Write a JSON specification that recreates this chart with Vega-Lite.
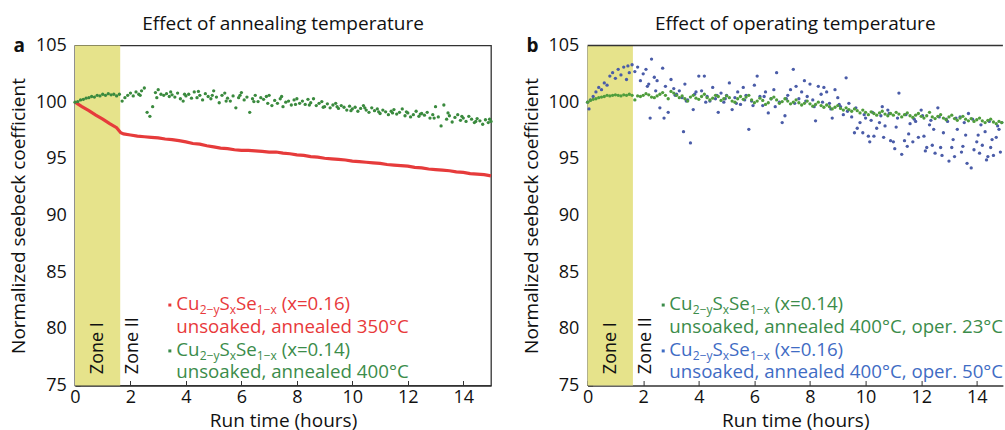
{
"$schema":"https://vega.github.io/schema/vega-lite/v6.json",
"padding":{"left":8,"top":13.5,"right":0,"bottom":0},
"config":{"font":"Open Sans","view":{"stroke":"#333","strokeWidth":1.3},
"axis":{"grid":false,"domainColor":"#333","domainWidth":1.3,"tickColor":"#333","tickSize":-5,"labelFontSize":18,"titleFontSize":19,"labelColor":"#111","titleColor":"#111","titleFontWeight":"normal","labelFlush":false,"labelOverlap":false},
"title":{"fontSize":19,"fontWeight":"normal","color":"#111"}},
"datasets":{
"zone":[{"t":0,"t2":1.63,"v":75,"v2":105}],
"zoneLbl":[{"t":0.83,"v":76.0,"lbl":"Zone I"},{"t":2.1,"v":76.0,"lbl":"Zone II"}],
"redA":[{"t":0,"v":100},{"t":0.25,"v":99.6},{"t":0.5,"v":99.25},{"t":0.75,"v":98.85},{"t":1,"v":98.5},{"t":1.25,"v":98.1},{"t":1.5,"v":97.75},{"t":1.65,"v":97.3},{"t":1.75,"v":97.2},{"t":2,"v":97.1},{"t":2.25,"v":97},{"t":2.5,"v":96.95},{"t":2.75,"v":96.9},{"t":3,"v":96.85},{"t":3.25,"v":96.75},{"t":3.5,"v":96.7},{"t":3.75,"v":96.6},{"t":4,"v":96.5},{"t":4.25,"v":96.35},{"t":4.5,"v":96.3},{"t":4.75,"v":96.15},{"t":5,"v":96.05},{"t":5.25,"v":95.95},{"t":5.5,"v":95.9},{"t":5.75,"v":95.8},{"t":6,"v":95.75},{"t":6.25,"v":95.75},{"t":6.5,"v":95.7},{"t":6.75,"v":95.65},{"t":7,"v":95.6},{"t":7.25,"v":95.6},{"t":7.5,"v":95.5},{"t":7.75,"v":95.45},{"t":8,"v":95.35},{"t":8.25,"v":95.3},{"t":8.5,"v":95.2},{"t":8.75,"v":95.15},{"t":9,"v":95.05},{"t":9.25,"v":95},{"t":9.5,"v":94.95},{"t":9.75,"v":94.9},{"t":10,"v":94.8},{"t":10.25,"v":94.75},{"t":10.5,"v":94.7},{"t":10.75,"v":94.65},{"t":11,"v":94.6},{"t":11.25,"v":94.5},{"t":11.5,"v":94.45},{"t":11.75,"v":94.4},{"t":12,"v":94.35},{"t":12.25,"v":94.25},{"t":12.5,"v":94.2},{"t":12.75,"v":94.1},{"t":13,"v":94.05},{"t":13.25,"v":94},{"t":13.5,"v":93.95},{"t":13.75,"v":93.85},{"t":14,"v":93.8},{"t":14.25,"v":93.7},{"t":14.5,"v":93.65},{"t":14.75,"v":93.6},{"t":15,"v":93.5}],
"greenA":[{"t":0,"v":100},{"t":0.1,"v":100.05},{"t":0.2,"v":100.2},{"t":0.3,"v":100.25},{"t":0.4,"v":100.35},{"t":0.5,"v":100.4},{"t":0.6,"v":100.5},{"t":0.7,"v":100.45},{"t":0.8,"v":100.6},{"t":0.9,"v":100.55},{"t":1,"v":100.7},{"t":1.1,"v":100.6},{"t":1.2,"v":100.75},{"t":1.3,"v":100.65},{"t":1.4,"v":100.7},{"t":1.5,"v":100.55},{"t":1.6,"v":100.7},{"t":1.7,"v":100.1},{"t":1.8,"v":100.4},{"t":1.9,"v":100.6},{"t":2,"v":100.8},{"t":2.1,"v":100.55},{"t":2.2,"v":100.9},{"t":2.3,"v":100.7},{"t":2.4,"v":101},{"t":2.5,"v":101.25},{"t":2.6,"v":99.1},{"t":2.7,"v":98.75},{"t":2.8,"v":99.6},{"t":2.9,"v":100.85},{"t":3,"v":101.1},{"t":3.1,"v":100.7},{"t":3.2,"v":100.6},{"t":3.3,"v":100.75},{"t":3.4,"v":100.5},{"t":3.5,"v":100.65},{"t":3.6,"v":100.45},{"t":3.7,"v":100.8},{"t":3.8,"v":100.3},{"t":3.9,"v":100.1},{"t":4,"v":100.55},{"t":4.1,"v":100.7},{"t":4.2,"v":100.35},{"t":4.3,"v":100.9},{"t":4.4,"v":100.4},{"t":4.5,"v":100.6},{"t":4.6,"v":100.2},{"t":4.7,"v":100.75},{"t":4.8,"v":100.5},{"t":4.9,"v":100.3},{"t":5,"v":101},{"t":5.1,"v":100.45},{"t":5.2,"v":99.95},{"t":5.3,"v":100.6},{"t":5.4,"v":100.8},{"t":5.5,"v":100.35},{"t":5.6,"v":100.1},{"t":5.7,"v":100.55},{"t":5.8,"v":99.5},{"t":5.9,"v":100.4},{"t":6,"v":100.85},{"t":6.1,"v":100.2},{"t":6.2,"v":100.45},{"t":6.3,"v":99.1},{"t":6.4,"v":100.3},{"t":6.5,"v":100.6},{"t":6.6,"v":100.05},{"t":6.7,"v":100.4},{"t":6.8,"v":100.25},{"t":6.9,"v":100.5},{"t":7,"v":100.6},{"t":7.1,"v":99.7},{"t":7.2,"v":100.15},{"t":7.3,"v":99.9},{"t":7.4,"v":100.3},{"t":7.5,"v":99.6},{"t":7.6,"v":100},{"t":7.7,"v":100.1},{"t":7.8,"v":99.75},{"t":7.9,"v":100.2},{"t":8,"v":100.3},{"t":8.1,"v":99.9},{"t":8.2,"v":100.1},{"t":8.3,"v":99.8},{"t":8.4,"v":100.25},{"t":8.5,"v":99.95},{"t":8.6,"v":100.3},{"t":8.7,"v":99.7},{"t":8.8,"v":99.9},{"t":8.9,"v":100.05},{"t":9,"v":99.6},{"t":9.1,"v":99.85},{"t":9.2,"v":99.5},{"t":9.3,"v":99.75},{"t":9.4,"v":99.9},{"t":9.5,"v":99.45},{"t":9.6,"v":99.7},{"t":9.7,"v":99.55},{"t":9.8,"v":99.3},{"t":9.9,"v":99.65},{"t":10,"v":99.4},{"t":10.1,"v":99.55},{"t":10.2,"v":99.2},{"t":10.3,"v":99.45},{"t":10.4,"v":99.7},{"t":10.5,"v":99.3},{"t":10.6,"v":99.1},{"t":10.7,"v":99.5},{"t":10.8,"v":99.25},{"t":10.9,"v":99.4},{"t":11,"v":99},{"t":11.1,"v":99.3},{"t":11.2,"v":99.15},{"t":11.3,"v":98.9},{"t":11.4,"v":99.2},{"t":11.5,"v":99.35},{"t":11.6,"v":98.95},{"t":11.7,"v":99.1},{"t":11.8,"v":99.4},{"t":11.9,"v":98.8},{"t":12,"v":99.05},{"t":12.1,"v":98.7},{"t":12.2,"v":98.9},{"t":12.3,"v":99.2},{"t":12.4,"v":98.75},{"t":12.5,"v":99},{"t":12.6,"v":98.85},{"t":12.7,"v":99.1},{"t":12.8,"v":98.6},{"t":12.9,"v":98.9},{"t":13,"v":99.6},{"t":13.1,"v":98.7},{"t":13.2,"v":97.9},{"t":13.3,"v":99.75},{"t":13.4,"v":98.5},{"t":13.5,"v":98.8},{"t":13.6,"v":98.25},{"t":13.7,"v":98.65},{"t":13.8,"v":98.9},{"t":13.9,"v":98.4},{"t":14,"v":98.6},{"t":14.1,"v":98.3},{"t":14.2,"v":98.75},{"t":14.3,"v":98.5},{"t":14.4,"v":98.2},{"t":14.5,"v":98.55},{"t":14.6,"v":98.35},{"t":14.7,"v":98.05},{"t":14.8,"v":98.45},{"t":14.9,"v":98.2},{"t":15,"v":98.3},{"t":2.35,"v":100.6},{"t":2.95,"v":100.4},{"t":3.45,"v":100.9},{"t":3.95,"v":100.7},{"t":4.45,"v":100.95},{"t":4.95,"v":100.6},{"t":5.45,"v":100.1},{"t":5.95,"v":100.6},{"t":6.45,"v":100.05},{"t":6.95,"v":99.9},{"t":7.45,"v":100.5},{"t":7.95,"v":99.8},{"t":8.45,"v":99.75},{"t":8.95,"v":99.55},{"t":9.45,"v":99.6},{"t":9.95,"v":99.25},{"t":10.45,"v":99.5},{"t":10.95,"v":99.15},{"t":11.45,"v":99.05},{"t":11.95,"v":99.15},{"t":12.45,"v":98.95},{"t":12.95,"v":98.6},{"t":13.45,"v":99.05},{"t":13.95,"v":98.75},{"t":14.45,"v":98.3},{"t":14.95,"v":98.5}],
"greenB":[{"t":0,"v":100},{"t":0.1,"v":100.15},{"t":0.2,"v":100.25},{"t":0.3,"v":100.3},{"t":0.4,"v":100.4},{"t":0.5,"v":100.45},{"t":0.6,"v":100.5},{"t":0.7,"v":100.6},{"t":0.8,"v":100.55},{"t":0.9,"v":100.6},{"t":1,"v":100.65},{"t":1.1,"v":100.6},{"t":1.2,"v":100.55},{"t":1.3,"v":100.65},{"t":1.4,"v":100.6},{"t":1.5,"v":100.7},{"t":1.6,"v":100.6},{"t":1.7,"v":100.2},{"t":1.8,"v":100.55},{"t":1.9,"v":100.5},{"t":2,"v":100.6},{"t":2.1,"v":100.75},{"t":2.2,"v":100.65},{"t":2.3,"v":100.45},{"t":2.4,"v":100.4},{"t":2.5,"v":100.55},{"t":2.6,"v":100.7},{"t":2.7,"v":100.85},{"t":2.8,"v":100.6},{"t":2.9,"v":100.3},{"t":3,"v":100.95},{"t":3.1,"v":100.8},{"t":3.2,"v":100.6},{"t":3.3,"v":100.4},{"t":3.4,"v":100.55},{"t":3.5,"v":100.3},{"t":3.6,"v":100.1},{"t":3.7,"v":100.45},{"t":3.8,"v":100.6},{"t":3.9,"v":100.35},{"t":4,"v":100.25},{"t":4.1,"v":100.5},{"t":4.2,"v":100.7},{"t":4.3,"v":100.4},{"t":4.4,"v":100.2},{"t":4.5,"v":100.35},{"t":4.6,"v":100.6},{"t":4.7,"v":100.5},{"t":4.8,"v":100.15},{"t":4.9,"v":100.3},{"t":5,"v":100.55},{"t":5.1,"v":100.4},{"t":5.2,"v":100.1},{"t":5.3,"v":100},{"t":5.4,"v":100.3},{"t":5.5,"v":100.5},{"t":5.6,"v":100.25},{"t":5.7,"v":100.45},{"t":5.8,"v":100.6},{"t":5.9,"v":100.2},{"t":6,"v":99.95},{"t":6.1,"v":100.1},{"t":6.2,"v":100.35},{"t":6.3,"v":100.15},{"t":6.4,"v":99.8},{"t":6.5,"v":99.95},{"t":6.6,"v":100.3},{"t":6.7,"v":100.45},{"t":6.8,"v":100.2},{"t":6.9,"v":99.9},{"t":7,"v":100.05},{"t":7.1,"v":100.3},{"t":7.2,"v":100.1},{"t":7.3,"v":99.85},{"t":7.4,"v":100},{"t":7.5,"v":100.2},{"t":7.6,"v":99.95},{"t":7.7,"v":99.75},{"t":7.8,"v":99.9},{"t":7.9,"v":100.1},{"t":8,"v":99.85},{"t":8.1,"v":99.65},{"t":8.2,"v":99.8},{"t":8.3,"v":100},{"t":8.4,"v":99.7},{"t":8.5,"v":99.55},{"t":8.6,"v":99.75},{"t":8.7,"v":99.6},{"t":8.8,"v":99.4},{"t":8.9,"v":99.55},{"t":9,"v":99.7},{"t":9.1,"v":99.45},{"t":9.2,"v":99.3},{"t":9.3,"v":99.5},{"t":9.4,"v":99.35},{"t":9.5,"v":99.2},{"t":9.6,"v":99.4},{"t":9.7,"v":99.25},{"t":9.8,"v":99.05},{"t":9.9,"v":99.3},{"t":10,"v":99.1},{"t":10.1,"v":98.9},{"t":10.2,"v":99.15},{"t":10.3,"v":99},{"t":10.4,"v":98.85},{"t":10.5,"v":99.05},{"t":10.6,"v":99.2},{"t":10.7,"v":98.95},{"t":10.8,"v":98.8},{"t":10.9,"v":99},{"t":11,"v":98.85},{"t":11.1,"v":99.1},{"t":11.2,"v":98.95},{"t":11.3,"v":98.7},{"t":11.4,"v":98.9},{"t":11.5,"v":99.05},{"t":11.6,"v":98.8},{"t":11.7,"v":98.65},{"t":11.8,"v":98.85},{"t":11.9,"v":99},{"t":12,"v":98.75},{"t":12.1,"v":98.6},{"t":12.2,"v":98.8},{"t":12.3,"v":99.1},{"t":12.4,"v":98.7},{"t":12.5,"v":98.55},{"t":12.6,"v":98.75},{"t":12.7,"v":98.9},{"t":12.8,"v":98.6},{"t":12.9,"v":98.45},{"t":13,"v":98.7},{"t":13.1,"v":98.85},{"t":13.2,"v":98.55},{"t":13.3,"v":98.4},{"t":13.4,"v":98.6},{"t":13.5,"v":98.75},{"t":13.6,"v":98.5},{"t":13.7,"v":98.35},{"t":13.8,"v":98.55},{"t":13.9,"v":98.3},{"t":14,"v":98.45},{"t":14.1,"v":98.6},{"t":14.2,"v":98.35},{"t":14.3,"v":98.2},{"t":14.4,"v":98.4},{"t":14.5,"v":98.5},{"t":14.6,"v":98.25},{"t":14.7,"v":98.1},{"t":14.8,"v":98.3},{"t":14.9,"v":98.2}],
"blueB":[{"t":0,"v":100},{"t":0.05,"v":99.4},{"t":0.1,"v":100.2},{"t":0.2,"v":100.5},{"t":0.3,"v":100.9},{"t":0.4,"v":101.3},{"t":0.5,"v":101.1},{"t":0.6,"v":101.7},{"t":0.7,"v":101.5},{"t":0.8,"v":102.3},{"t":0.9,"v":102.6},{"t":1,"v":102.1},{"t":1.1,"v":102.9},{"t":1.2,"v":102.4},{"t":1.3,"v":103.1},{"t":1.4,"v":102},{"t":1.45,"v":103.2},{"t":1.5,"v":102.6},{"t":1.6,"v":103.3},{"t":1.7,"v":102.7},{"t":1.8,"v":103.1},{"t":1.9,"v":101.9},{"t":2,"v":102.5},{"t":2.1,"v":102.9},{"t":2.15,"v":101.4},{"t":2.2,"v":101.6},{"t":2.25,"v":98.6},{"t":2.3,"v":103.8},{"t":2.4,"v":102.2},{"t":2.45,"v":101},{"t":2.5,"v":101.9},{"t":2.6,"v":99.5},{"t":2.7,"v":103},{"t":2.75,"v":98.6},{"t":2.8,"v":101.4},{"t":2.9,"v":99.1},{"t":3,"v":102},{"t":3.1,"v":101.2},{"t":3.15,"v":100.6},{"t":3.2,"v":100.7},{"t":3.3,"v":101},{"t":3.4,"v":100.4},{"t":3.45,"v":97.4},{"t":3.5,"v":101.6},{"t":3.55,"v":100.1},{"t":3.6,"v":100.2},{"t":3.7,"v":96.4},{"t":3.8,"v":99.35},{"t":3.85,"v":100.7},{"t":3.9,"v":100.9},{"t":4,"v":102.3},{"t":4.1,"v":101},{"t":4.2,"v":102.3},{"t":4.25,"v":100},{"t":4.3,"v":100.5},{"t":4.4,"v":100.1},{"t":4.5,"v":101.3},{"t":4.6,"v":100.3},{"t":4.65,"v":100.6},{"t":4.7,"v":99.1},{"t":4.8,"v":100.8},{"t":4.9,"v":100},{"t":4.95,"v":100.3},{"t":5,"v":100.6},{"t":5.1,"v":101.7},{"t":5.2,"v":99.35},{"t":5.3,"v":100.4},{"t":5.35,"v":99.9},{"t":5.4,"v":100.9},{"t":5.5,"v":99.8},{"t":5.6,"v":101.3},{"t":5.65,"v":100.2},{"t":5.7,"v":100.6},{"t":5.8,"v":97.6},{"t":5.9,"v":100.1},{"t":5.95,"v":99.7},{"t":6,"v":101.5},{"t":6.1,"v":102.3},{"t":6.2,"v":100.5},{"t":6.3,"v":99.7},{"t":6.35,"v":100.5},{"t":6.4,"v":100.9},{"t":6.5,"v":99.05},{"t":6.6,"v":100.3},{"t":6.7,"v":101.1},{"t":6.75,"v":99.6},{"t":6.8,"v":102.6},{"t":6.9,"v":100},{"t":7,"v":98.2},{"t":7.1,"v":98.8},{"t":7.15,"v":100.3},{"t":7.2,"v":100.6},{"t":7.3,"v":101.1},{"t":7.4,"v":102.9},{"t":7.45,"v":99.9},{"t":7.5,"v":101.4},{"t":7.6,"v":100.3},{"t":7.7,"v":100.9},{"t":7.8,"v":101.9},{"t":7.85,"v":100.1},{"t":7.9,"v":100.5},{"t":8,"v":101.6},{"t":8.1,"v":100.2},{"t":8.15,"v":99.6},{"t":8.2,"v":98.35},{"t":8.3,"v":101.4},{"t":8.4,"v":100.7},{"t":8.45,"v":100},{"t":8.5,"v":101.3},{"t":8.6,"v":100.9},{"t":8.7,"v":99.9},{"t":8.75,"v":99.4},{"t":8.8,"v":98.6},{"t":8.9,"v":101.1},{"t":9,"v":100.4},{"t":9.05,"v":99.8},{"t":9.1,"v":99.6},{"t":9.2,"v":98.9},{"t":9.3,"v":102.15},{"t":9.35,"v":99.2},{"t":9.4,"v":99.9},{"t":9.5,"v":98.7},{"t":9.6,"v":97.3},{"t":9.65,"v":99.5},{"t":9.7,"v":97.7},{"t":9.8,"v":98.2},{"t":9.9,"v":97.3},{"t":9.95,"v":98.9},{"t":10,"v":98.6},{"t":10.1,"v":97},{"t":10.15,"v":96.5},{"t":10.2,"v":98.4},{"t":10.25,"v":99.1},{"t":10.3,"v":97},{"t":10.4,"v":97.7},{"t":10.5,"v":98.2},{"t":10.55,"v":98.8},{"t":10.6,"v":99.6},{"t":10.65,"v":96.9},{"t":10.7,"v":97.9},{"t":10.8,"v":99.3},{"t":10.85,"v":99},{"t":10.9,"v":96.6},{"t":11,"v":96.5},{"t":11.05,"v":95.9},{"t":11.1,"v":97.8},{"t":11.15,"v":98.6},{"t":11.2,"v":100.8},{"t":11.3,"v":95.4},{"t":11.4,"v":96.6},{"t":11.45,"v":98.9},{"t":11.5,"v":96.1},{"t":11.55,"v":97.2},{"t":11.6,"v":98.1},{"t":11.7,"v":96.5},{"t":11.75,"v":98.5},{"t":11.8,"v":98.3},{"t":11.9,"v":96.9},{"t":12,"v":99.3},{"t":12.05,"v":98.8},{"t":12.1,"v":97},{"t":12.15,"v":95.7},{"t":12.2,"v":96},{"t":12.3,"v":98},{"t":12.35,"v":98.4},{"t":12.4,"v":96.2},{"t":12.45,"v":97.6},{"t":12.5,"v":95.5},{"t":12.6,"v":99.5},{"t":12.65,"v":98.7},{"t":12.7,"v":96},{"t":12.75,"v":95.3},{"t":12.8,"v":97.3},{"t":12.9,"v":98.5},{"t":12.95,"v":98.3},{"t":13,"v":94.8},{"t":13.1,"v":96},{"t":13.15,"v":96.7},{"t":13.2,"v":95.2},{"t":13.25,"v":98.6},{"t":13.3,"v":97.6},{"t":13.4,"v":98.7},{"t":13.45,"v":95.6},{"t":13.5,"v":96.1},{"t":13.55,"v":98.2},{"t":13.6,"v":97.1},{"t":13.65,"v":94.6},{"t":13.7,"v":99},{"t":13.8,"v":94.2},{"t":13.85,"v":98.5},{"t":13.9,"v":95.8},{"t":14,"v":96.5},{"t":14.05,"v":97.1},{"t":14.1,"v":95.5},{"t":14.15,"v":98},{"t":14.2,"v":96.2},{"t":14.3,"v":97.4},{"t":14.35,"v":94.9},{"t":14.4,"v":95.2},{"t":14.45,"v":98.3},{"t":14.5,"v":96},{"t":14.55,"v":96.7},{"t":14.6,"v":95.3},{"t":14.7,"v":96.9},{"t":14.75,"v":97.9},{"t":14.8,"v":97.6},{"t":14.85,"v":95.6},{"t":14.9,"v":98.2}],
"legA":[{"t":3.652,"v":82.2,"txt":"Cu","s":"r","sub":0},{"t":4.499,"v":82.2,"txt":"2−y","s":"r","sub":1},{"t":5.209,"v":82.2,"txt":"S","s":"r","sub":0},{"t":5.58,"v":82.2,"txt":"x","s":"r","sub":1},{"t":5.808,"v":82.2,"txt":"Se","s":"r","sub":0},{"t":6.557,"v":82.2,"txt":"1−x","s":"r","sub":1},{"t":7.451,"v":82.2,"txt":"(x=0.16)","s":"r","sub":0},{"t":3.652,"v":80.17,"txt":"unsoaked, annealed 350°C","s":"r","sub":0},{"t":3.652,"v":78.14,"txt":"Cu","s":"g","sub":0},{"t":4.499,"v":78.14,"txt":"2−y","s":"g","sub":1},{"t":5.209,"v":78.14,"txt":"S","s":"g","sub":0},{"t":5.58,"v":78.14,"txt":"x","s":"g","sub":1},{"t":5.808,"v":78.14,"txt":"Se","s":"g","sub":0},{"t":6.557,"v":78.14,"txt":"1−x","s":"g","sub":1},{"t":7.451,"v":78.14,"txt":"(x=0.14)","s":"g","sub":0},{"t":3.652,"v":76.2,"txt":"unsoaked, annealed 400°C","s":"g","sub":0}],
"mrkA":[{"t":3.42,"v":82.1,"s":"r"},{"t":3.42,"v":78.05,"s":"g"}],
"legB":[{"t":2.939,"v":82.2,"txt":"Cu","s":"g","sub":0},{"t":3.784,"v":82.2,"txt":"2−y","s":"g","sub":1},{"t":4.493,"v":82.2,"txt":"S","s":"g","sub":0},{"t":4.863,"v":82.2,"txt":"x","s":"g","sub":1},{"t":5.09,"v":82.2,"txt":"Se","s":"g","sub":0},{"t":5.838,"v":82.2,"txt":"1−x","s":"g","sub":1},{"t":6.73,"v":82.2,"txt":"(x=0.14)","s":"g","sub":0},{"t":2.939,"v":80.17,"txt":"unsoaked, annealed 400°C, oper. 23°C","s":"g","sub":0},{"t":2.939,"v":78.14,"txt":"Cu","s":"b","sub":0},{"t":3.784,"v":78.14,"txt":"2−y","s":"b","sub":1},{"t":4.493,"v":78.14,"txt":"S","s":"b","sub":0},{"t":4.863,"v":78.14,"txt":"x","s":"b","sub":1},{"t":5.09,"v":78.14,"txt":"Se","s":"b","sub":0},{"t":5.838,"v":78.14,"txt":"1−x","s":"b","sub":1},{"t":6.73,"v":78.14,"txt":"(x=0.16)","s":"b","sub":0},{"t":2.939,"v":76.2,"txt":"unsoaked, annealed 400°C, oper. 50°C","s":"b","sub":0}],
"mrkB":[{"t":2.72,"v":82.1,"s":"g"},{"t":2.72,"v":78.05,"s":"b"}],
"lblA":[{"t":-2.22,"v":105,"lbl":"a"}],
"lblB":[{"t":-2.2,"v":105,"lbl":"b"}],
"topB":[{"t":0,"t2":14.94,"v":105}]
},
"spacing":96.6,
"bounds":"flush",
"hconcat":[
{"width":416,"height":340,
"title":{"text":"Effect of annealing temperature","anchor":"middle","frame":"group","baseline":"alphabetic","offset":-12},
"encoding":{
"x":{"field":"t","type":"quantitative","scale":{"domain":[0,15],"nice":false,"zero":false},"axis":{"values":[0,2,4,6,8,10,12,14],"title":"Run time (hours)","labelPadding":7.5,"titlePadding":5}},
"y":{"field":"v","type":"quantitative","scale":{"domain":[75,105],"nice":false,"zero":false},"axis":{"values":[75,80,85,90,95,100,105],"title":"Normalized seebeck coefficient","labelPadding":13.7,"titlePadding":7}}},
"layer":[
{"data":{"name":"zone"},"mark":{"type":"rect","color":"#e6e38b"},"encoding":{"x2":{"field":"t2"},"y2":{"field":"v2"}}},
{"data":{"name":"zoneLbl"},"mark":{"type":"text","angle":270,"align":"left","baseline":"middle","fontSize":18,"color":"#111"},"encoding":{"text":{"field":"lbl"}}},
{"data":{"name":"redA"},"mark":{"type":"line","color":"#e63b3b","strokeWidth":3.2}},
{"data":{"name":"greenA"},"mark":{"type":"circle","color":"#3a8a3e","size":11,"opacity":1}},
{"data":{"name":"mrkA"},"mark":{"type":"square","size":9,"opacity":1},"encoding":{"color":{"field":"s","type":"nominal","scale":{"domain":["r","g","b"],"range":["#e8393b","#3b8c4a","#3f6cc4"]},"legend":null}}},
{"data":{"name":"legA"},"transform":[{"filter":"datum.sub==0"}],"mark":{"type":"text","align":"left","baseline":"middle","fontSize":18.7},"encoding":{"text":{"field":"txt"},"color":{"field":"s","type":"nominal","legend":null}}},
{"data":{"name":"legA"},"transform":[{"filter":"datum.sub==1"}],"mark":{"type":"text","align":"left","baseline":"middle","fontSize":12,"dy":6},"encoding":{"text":{"field":"txt"},"color":{"field":"s","type":"nominal","legend":null}}},
{"data":{"name":"lblA"},"mark":{"type":"text","align":"left","baseline":"middle","fontSize":19,"fontWeight":"bold","color":"#111"},"encoding":{"text":{"field":"lbl"}}}
]},
{"width":415.3,"height":340,"view":{"stroke":null},
"title":{"text":"Effect of operating temperature","anchor":"middle","frame":"group","baseline":"alphabetic","offset":-12},
"encoding":{
"x":{"field":"t","type":"quantitative","scale":{"domain":[0,14.94],"nice":false,"zero":false},"axis":{"values":[0,2,4,6,8,10,12,14],"title":"Run time (hours)","labelPadding":7.5,"titlePadding":5}},
"y":{"field":"v","type":"quantitative","scale":{"domain":[75,105],"nice":false,"zero":false},"axis":{"values":[75,80,85,90,95,100,105],"title":"Normalized seebeck coefficient","labelPadding":13.7,"titlePadding":7}}},
"layer":[
{"data":{"name":"zone"},"mark":{"type":"rect","color":"#e6e38b"},"encoding":{"x2":{"field":"t2"},"y2":{"field":"v2"}}},
{"data":{"name":"topB"},"mark":{"type":"rule","color":"#333","strokeWidth":1.3},"encoding":{"x2":{"field":"t2"}}},
{"data":{"name":"zoneLbl"},"mark":{"type":"text","angle":270,"align":"left","baseline":"middle","fontSize":18,"color":"#111"},"encoding":{"text":{"field":"lbl"}}},
{"data":{"name":"blueB"},"mark":{"type":"circle","color":"#4a5ca8","size":11,"opacity":1}},
{"data":{"name":"greenB"},"mark":{"type":"circle","color":"#4f9d3c","size":11,"opacity":1}},
{"data":{"name":"mrkB"},"mark":{"type":"square","size":9,"opacity":1},"encoding":{"color":{"field":"s","type":"nominal","scale":{"domain":["r","g","b"],"range":["#e8393b","#3b8c4a","#3f6cc4"]},"legend":null}}},
{"data":{"name":"legB"},"transform":[{"filter":"datum.sub==0"}],"mark":{"type":"text","align":"left","baseline":"middle","fontSize":18.7,"clip":true},"encoding":{"text":{"field":"txt"},"color":{"field":"s","type":"nominal","legend":null}}},
{"data":{"name":"legB"},"transform":[{"filter":"datum.sub==1"}],"mark":{"type":"text","align":"left","baseline":"middle","fontSize":12,"dy":6},"encoding":{"text":{"field":"txt"},"color":{"field":"s","type":"nominal","legend":null}}},
{"data":{"name":"lblB"},"mark":{"type":"text","align":"left","baseline":"middle","fontSize":19,"fontWeight":"bold","color":"#111"},"encoding":{"text":{"field":"lbl"}}}
]}
]
}
